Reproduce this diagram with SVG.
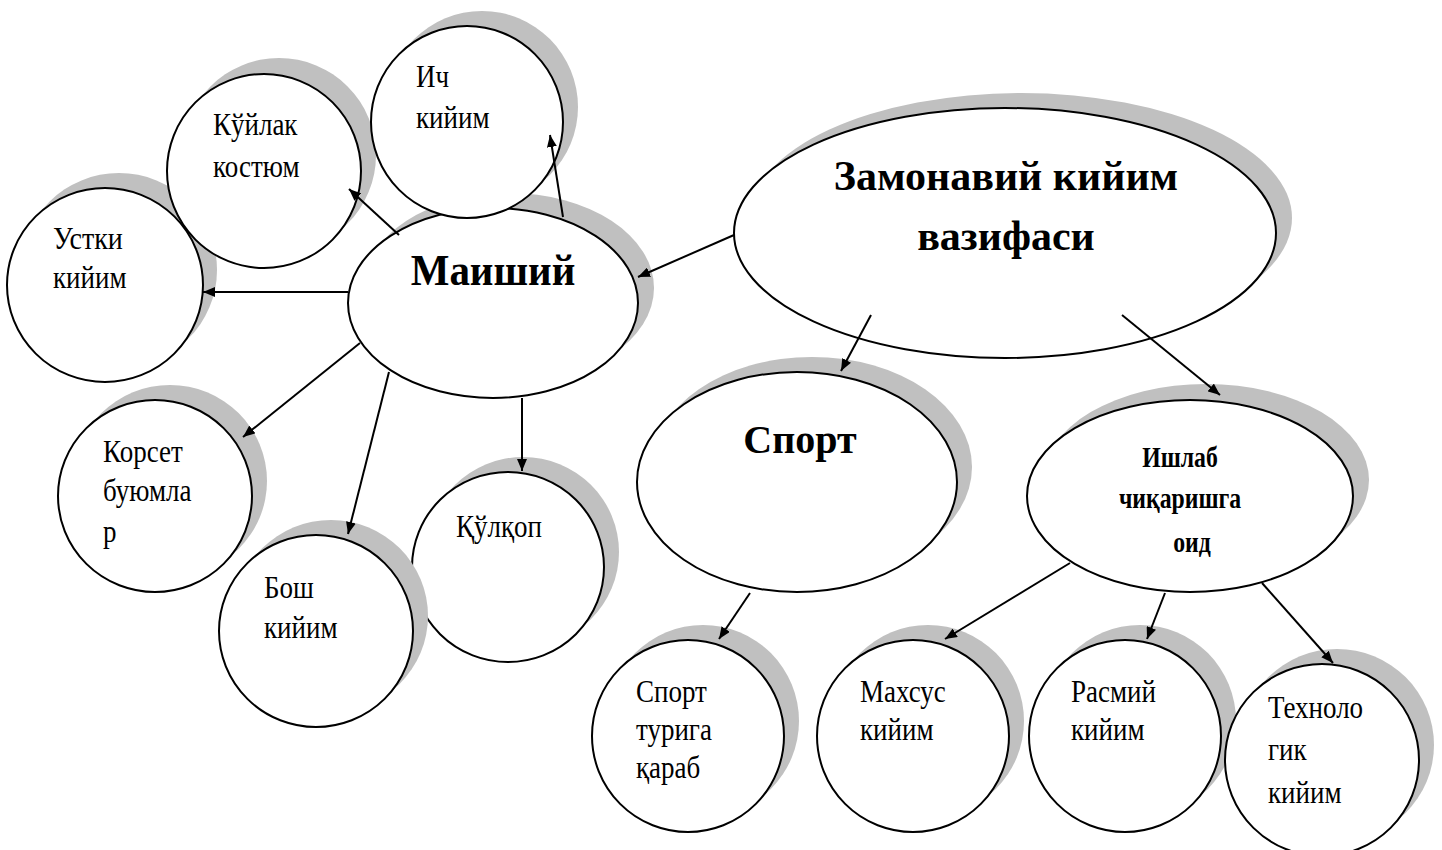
<svg xmlns="http://www.w3.org/2000/svg" width="1442" height="850" viewBox="0 0 1442 850">
<style>
.sh{fill:#c0c0c0;stroke:none}
.nd{fill:#fff;stroke:#000;stroke-width:2}
.t{font-family:"Liberation Serif","Times New Roman",serif;font-size:27px;fill:#000}
.b{font-family:"Liberation Serif","Times New Roman",serif;font-weight:bold;fill:#000;text-anchor:middle}
.c{stroke:#000;stroke-width:2;fill:none;marker-end:url(#ah)}
</style>
<defs>
<marker id="ah" viewBox="0 0 12 10" refX="12" refY="5" markerWidth="12" markerHeight="10" markerUnits="userSpaceOnUse" orient="auto">
<path d="M0,0 L12,5 L0,10 z" fill="#000"/>
</marker>
</defs>
<rect width="1442" height="850" fill="#fff"/>

<g id="n-ustki">
<ellipse class="sh" cx="119" cy="270" rx="98" ry="97"/>
<ellipse class="nd" cx="105" cy="285" rx="98" ry="97"/>
<text class="t" transform="translate(53,249) scale(1.04,1.16)">Устки</text>
<text class="t" transform="translate(53,288) scale(1,1.16)">кийим</text>
</g>
<g id="n-kuylak">
<ellipse class="sh" cx="279" cy="155" rx="97" ry="97"/>
<ellipse class="nd" cx="264" cy="171" rx="97" ry="97"/>
<text class="t" transform="translate(213,135) scale(1,1.16)">Кўйлак</text>
<text class="t" transform="translate(213,177) scale(1,1.16)">костюм</text>
</g>
<g id="n-maishiy">
<ellipse class="sh" cx="509" cy="288" rx="145" ry="95"/>
<ellipse class="nd" cx="493" cy="303" rx="145" ry="95"/>
<text class="b" transform="translate(493,285) scale(1,1.06)" font-size="41">Маиший</text>
</g>
<g id="n-ich">
<ellipse class="sh" cx="482" cy="107" rx="96" ry="96"/>
<ellipse class="nd" cx="467" cy="122" rx="96" ry="96"/>
<text class="t" transform="translate(416,87) scale(1,1.16)">Ич</text>
<text class="t" transform="translate(416,128) scale(1,1.16)">кийим</text>
</g>
<g id="n-korset">
<ellipse class="sh" cx="170" cy="481" rx="97" ry="96"/>
<ellipse class="nd" cx="155" cy="496" rx="97" ry="96"/>
<text class="t" transform="translate(103,462) scale(1,1.16)">Корсет</text>
<text class="t" transform="translate(103,501) scale(1,1.16)">буюмла</text>
<text class="t" transform="translate(103,542) scale(1,1.16)">р</text>
</g>
<g id="n-kulqop">
<ellipse class="sh" cx="523" cy="552" rx="96" ry="95"/>
<ellipse class="nd" cx="508" cy="567" rx="96" ry="95"/>
<text class="t" transform="translate(456,537) scale(1,1.16)">Қўлқоп</text>
</g>
<g id="n-bosh">
<ellipse class="sh" cx="331" cy="616" rx="97" ry="96"/>
<ellipse class="nd" cx="316" cy="631" rx="97" ry="96"/>
<text class="t" transform="translate(264,598) scale(1,1.16)">Бош</text>
<text class="t" transform="translate(264,638) scale(1,1.16)">кийим</text>
</g>
<g id="n-zamonaviy">
<ellipse class="sh" cx="1021" cy="218" rx="271" ry="125"/>
<ellipse class="nd" cx="1005" cy="233" rx="271" ry="125"/>
<text class="b" x="1006" y="190" font-size="42">Замонавий кийим</text>
<text class="b" x="1006" y="250" font-size="42">вазифаси</text>
</g>
<g id="n-sport">
<ellipse class="sh" cx="812" cy="467" rx="160" ry="110"/>
<ellipse class="nd" cx="797" cy="482" rx="160" ry="110"/>
<text class="b" x="800" y="453" font-size="40">Спорт</text>
</g>
<g id="n-ishlab">
<ellipse class="sh" cx="1206" cy="480" rx="163" ry="96"/>
<ellipse class="nd" cx="1190" cy="496" rx="163" ry="96"/>
<text class="b" transform="translate(1180,467) scale(0.95,1.2)" font-size="25">Ишлаб</text>
<text class="b" transform="translate(1180,508) scale(0.95,1.2)" font-size="25">чиқаришга</text>
<text class="b" transform="translate(1192,552) scale(0.95,1.2)" font-size="25">оид</text>
</g>
<g id="n-sportturi">
<ellipse class="sh" cx="703" cy="721" rx="96" ry="96"/>
<ellipse class="nd" cx="688" cy="736" rx="96" ry="96"/>
<text class="t" transform="translate(636,702) scale(1,1.16)">Спорт</text>
<text class="t" transform="translate(636,740) scale(1,1.16)">турига</text>
<text class="t" transform="translate(636,778) scale(1,1.16)">қараб</text>
</g>
<g id="n-maxsus">
<ellipse class="sh" cx="928" cy="721" rx="96" ry="96"/>
<ellipse class="nd" cx="913" cy="736" rx="96" ry="96"/>
<text class="t" transform="translate(860,702) scale(1,1.16)">Махсус</text>
<text class="t" transform="translate(860,740) scale(1,1.16)">кийим</text>
</g>
<g id="n-rasmiy">
<ellipse class="sh" cx="1140" cy="721" rx="96" ry="96"/>
<ellipse class="nd" cx="1125" cy="736" rx="96" ry="96"/>
<text class="t" transform="translate(1071,702) scale(1,1.16)">Расмий</text>
<text class="t" transform="translate(1071,740) scale(1,1.16)">кийим</text>
</g>
<g id="n-texnolog">
<ellipse class="sh" cx="1337" cy="745" rx="97" ry="96"/>
<ellipse class="nd" cx="1322" cy="760" rx="97" ry="96"/>
<text class="t" transform="translate(1268,718) scale(1,1.16)">Техноло</text>
<text class="t" transform="translate(1268,760) scale(1,1.16)">гик</text>
<text class="t" transform="translate(1268,803) scale(1,1.16)">кийим</text>
</g>

<g id="connectors">
<line class="c" x1="348" y1="292" x2="203" y2="292"/>
<line class="c" x1="399" y1="235" x2="349" y2="189"/>
<line class="c" x1="563" y1="217" x2="550" y2="135"/>
<line class="c" x1="360" y1="343" x2="243" y2="437"/>
<line class="c" x1="389" y1="372" x2="348" y2="534"/>
<line class="c" x1="522" y1="398" x2="522" y2="471"/>
<line class="c" x1="734" y1="235" x2="638" y2="277"/>
<line class="c" x1="871" y1="315" x2="841" y2="371"/>
<line class="c" x1="1122" y1="315" x2="1220" y2="395"/>
<line class="c" x1="750" y1="593" x2="719" y2="639"/>
<line class="c" x1="1070" y1="563" x2="945" y2="639"/>
<line class="c" x1="1165" y1="593" x2="1147" y2="639"/>
<line class="c" x1="1262" y1="583" x2="1333" y2="663"/>
</g>
</svg>
